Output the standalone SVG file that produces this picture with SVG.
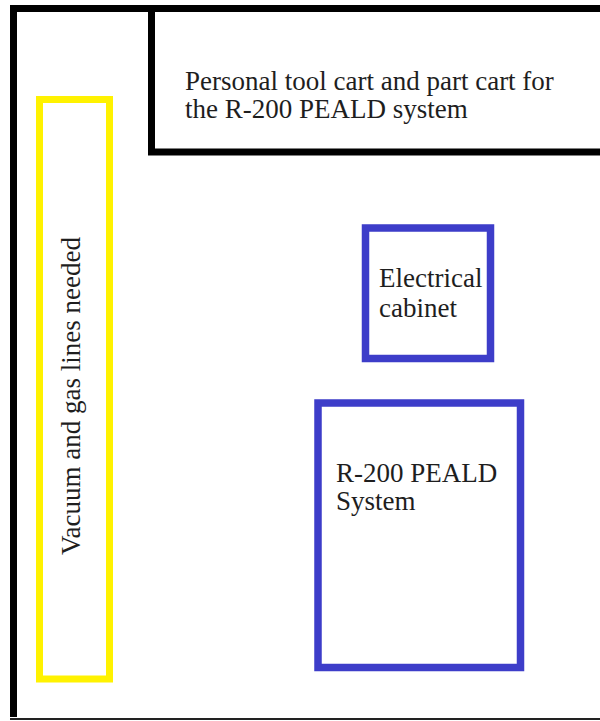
<svg xmlns="http://www.w3.org/2000/svg" width="600" height="721" viewBox="0 0 600 721">
<style>
  .lbl { font-family: "Liberation Serif", "Times New Roman", serif; font-size: 27px; fill: #1e1e1e; }
  .frame { fill: none; stroke: #000; stroke-width: 7; }
  .blue { fill: none; stroke: #3d3dc9; stroke-width: 7.5; }
  .yellow { fill: none; stroke: #fff200; stroke-width: 7; }
</style>
<rect x="0" y="0" width="600" height="721" fill="#fff"/>
<g id="room">
  <path class="frame" d="M13.5,717 V8.5 H600"/>
  <line x1="10" y1="719" x2="600" y2="719" stroke="#222" stroke-width="2"/>
</g>
<g id="cart">
  <path class="frame" d="M151.5,8.5 V152 H600"/>
  <text class="lbl" x="185" y="89.5">Personal tool cart and part cart for</text>
  <text class="lbl" x="185" y="118">the R-200 PEALD system</text>
</g>
<g id="gaslines">
  <rect class="yellow" x="39.5" y="99.5" width="70" height="579.5"/>
  <text class="lbl" transform="translate(80,396) rotate(-90)" text-anchor="middle">Vacuum and gas lines needed</text>
</g>
<g id="cabinet">
  <rect class="blue" x="365.5" y="228" width="125" height="130.5"/>
  <text class="lbl" x="379" y="286.5">Electrical</text>
  <text class="lbl" x="379" y="316.5">cabinet</text>
</g>
<g id="system">
  <rect class="blue" x="318" y="403" width="202.5" height="264.5"/>
  <text class="lbl" x="336" y="481.5">R-200 PEALD</text>
  <text class="lbl" x="336" y="510">System</text>
</g>
<g id="connectors"></g>
</svg>
